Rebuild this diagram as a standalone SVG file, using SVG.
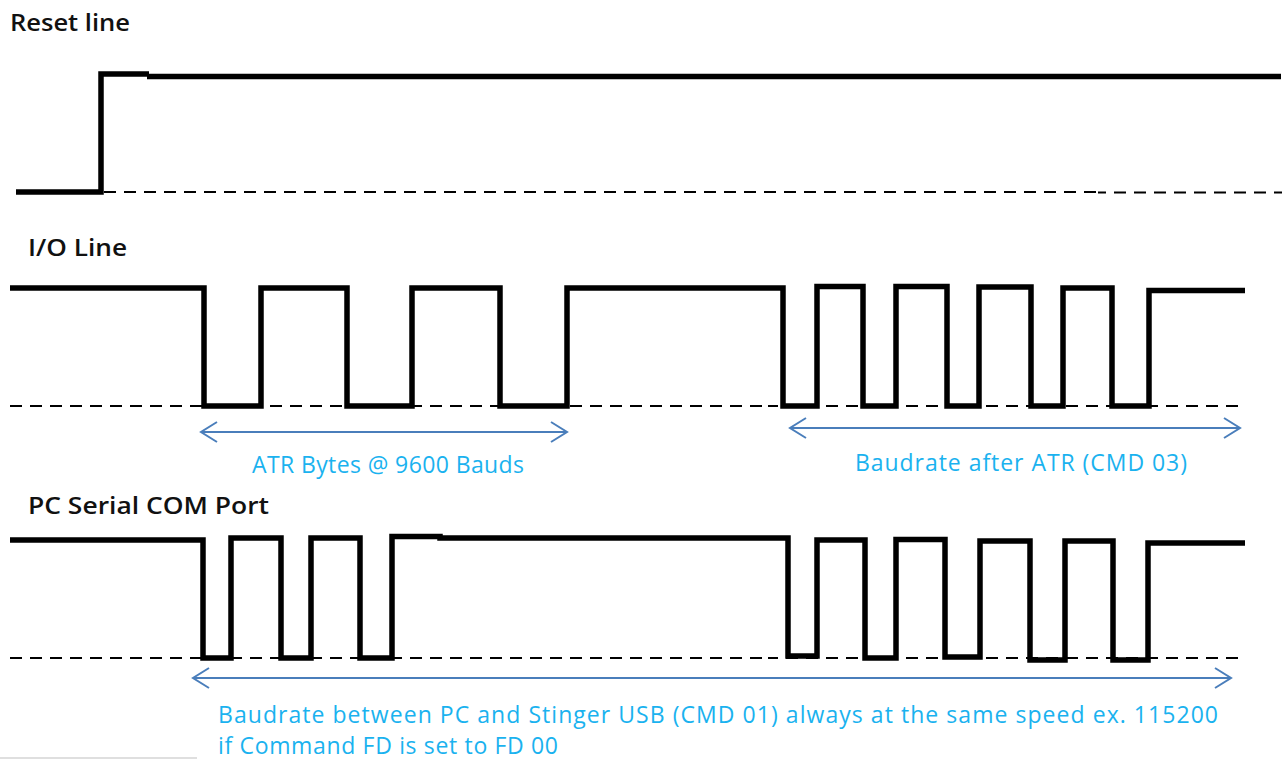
<svg xmlns="http://www.w3.org/2000/svg" width="1284" height="760" viewBox="0 0 1284 760">
  <style>
    .wave { fill: none; stroke: #000; stroke-width: 5.5; stroke-linejoin: miter; stroke-linecap: butt; }
    .base { fill: none; stroke: #000; stroke-width: 2; stroke-dasharray: 12 8; }
    .span { fill: none; stroke: #4a7ebb; stroke-width: 2; }
    .title { font-family: "Open Sans", "Noto Sans", sans-serif; font-size: 23.5px; font-weight: 600; fill: #111; }
    .note { font-family: "Open Sans", "Noto Sans", sans-serif; font-size: 23px; fill: #1ab2ef; }
  </style>
  <defs>
    <marker id="chev" markerUnits="userSpaceOnUse" markerWidth="24" markerHeight="24" viewBox="-20 -12 24 24" refX="0" refY="0" orient="auto-start-reverse">
      <path d="M-16,-10 L0,0 L-16,10" fill="none" stroke="#4a7ebb" stroke-width="2"/>
    </marker>
  </defs>
  <rect width="1284" height="760" fill="#fff"/>

  <g id="reset-line">
    <text class="title" x="10" y="31" textLength="120" lengthAdjust="spacingAndGlyphs">Reset line</text>
    <line class="base" x1="104" y1="192" x2="1100" y2="192"/>
    <line class="base" x1="1098" y1="192.5" x2="1282" y2="192.5" stroke-dashoffset="4"/>
    <polyline class="wave" points="16,192 101,192 101,74 149,74"/>
    <line class="wave" x1="147" y1="76.4" x2="1281" y2="76.4" stroke-width="7.4"/>
  </g>

  <g id="io-line">
    <text class="title" x="28" y="256" textLength="99" lengthAdjust="spacingAndGlyphs">I/O Line</text>
    <line class="base" x1="10" y1="406" x2="764" y2="406"/>
    <line class="base" x1="768" y1="406" x2="1246" y2="406" stroke-dashoffset="2"/>
    <path class="wave" d="M10,288 H204 V406 H261 V288 H347 V406 H412 V288 H500 V406 H567 V288 H783 V406 H817 V286.5 H863 V406 H896 V286.5 H947 V406 H979 V287 H1031 V406 H1063 V288 H1112 V406 H1149 V290.5 H1245"/>
  </g>

  <g id="pc-serial-com-port">
    <text class="title" x="28" y="514" textLength="241" lengthAdjust="spacingAndGlyphs">PC Serial COM Port</text>
    <line class="base" x1="10" y1="658" x2="764" y2="658"/>
    <line class="base" x1="768" y1="658" x2="1246" y2="658" stroke-dashoffset="2"/>
    <path class="wave" d="M10,540 H203 V658 H231 V538 H281 V658 H311 V538 H360 V658 H392 V536.5 H440 V538 H788 V656 H817 V540 H865 V658 H896 V539.5 H945 V657 H980 V541 H1030 V660 H1065 V541 H1113 V660 H1148 V543 H1245"/>
  </g>

  <g id="connectors">
    <line class="span" x1="201" y1="432" x2="567" y2="432" marker-start="url(#chev)" marker-end="url(#chev)"/>
    <line class="span" x1="790" y1="428" x2="1240" y2="428" marker-start="url(#chev)" marker-end="url(#chev)"/>
    <line class="span" x1="193" y1="678" x2="1231" y2="678" marker-start="url(#chev)" marker-end="url(#chev)"/>
  </g>

  <g id="annotations">
    <text class="note" x="252" y="473" textLength="272">ATR Bytes @ 9600 Bauds</text>
    <text class="note" x="855" y="471" textLength="332">Baudrate after ATR (CMD 03)</text>
    <text class="note" x="218" y="723" textLength="1000">Baudrate between PC and Stinger USB (CMD 01) always at the same speed ex. 115200</text>
    <text class="note" x="218" y="754" textLength="340">if Command FD is set to FD 00</text>
  </g>

  <line x1="0" y1="758" x2="197" y2="758" stroke="#d4d4d4" stroke-width="1.5"/>
</svg>
